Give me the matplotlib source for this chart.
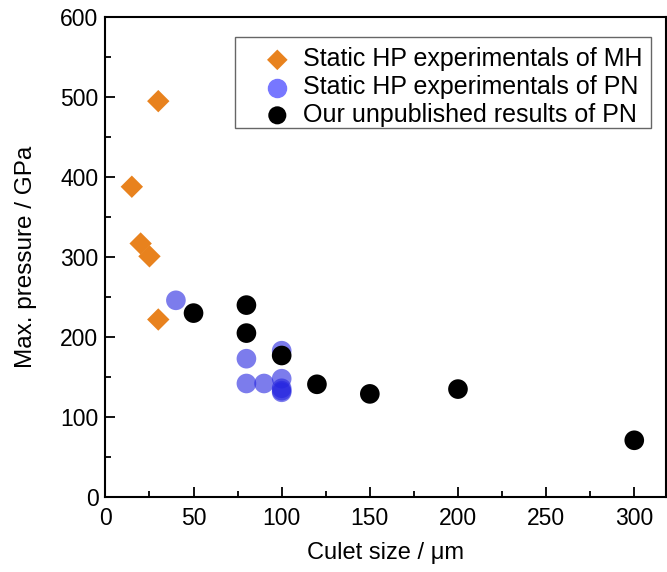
import matplotlib
matplotlib.use("Agg")
import matplotlib.pyplot as plt
from matplotlib.patches import Rectangle
from matplotlib.ticker import MultipleLocator

plt.rcParams['font.family'] = ['Liberation Sans', 'DejaVu Sans']

# static HP experiments of MH
mh_x = [30, 15, 20, 25, 30]
mh_y = [495, 388, 317, 301, 222]

# static HP experiments of PN
pn_x = [40, 80, 80, 90, 100, 100, 100, 100, 100]
pn_y = [246, 173, 142, 142, 183, 148, 136, 133, 131]

# our unpublished results of PN
our_x = [50, 80, 80, 100, 120, 150, 200, 300]
our_y = [230, 240, 205, 177, 141, 129, 135, 71]

fig = plt.figure(figsize=(6.67, 5.72), dpi=100)
ax = fig.add_axes([0.158, 0.131, 0.8405, 0.839])

ax.scatter(mh_x, mh_y, marker='D', s=130, color='#e8821e', edgecolors='none',
           label='Static HP experimentals of MH', zorder=3)
ax.scatter(pn_x, pn_y, marker='o', s=200, color='#2525e0', alpha=0.6, edgecolors='none',
           label='Static HP experimentals of PN', zorder=3)
ax.scatter(our_x, our_y, marker='o', s=200, color='black', edgecolors='none',
           label='Our unpublished results of PN', zorder=4)

ax.set_xlim(0, 318)
ax.set_ylim(0, 600)
ax.xaxis.set_major_locator(MultipleLocator(50))
ax.xaxis.set_minor_locator(MultipleLocator(25))
ax.yaxis.set_major_locator(MultipleLocator(100))
ax.yaxis.set_minor_locator(MultipleLocator(50))
ax.tick_params(which='both', direction='in', top=False, right=False, labelsize=16.5, width=1.3)
ax.tick_params(which='major', length=7)
ax.tick_params(axis='x', which='major', pad=7)
ax.tick_params(axis='y', which='major', pad=5)
ax.tick_params(which='minor', length=4)
for sp in ax.spines.values():
    sp.set_linewidth(1.5)

ax.set_xlabel('Culet size / \u03bcm', fontsize=17, labelpad=9)
ax.set_ylabel('Max. pressure / GPa', fontsize=17.5, labelpad=17)

# legend box drawn separately so the marker column gets the wide left margin
ax.add_patch(Rectangle((0.231, 0.769), 0.742, 0.189, transform=ax.transAxes,
                       facecolor='white', edgecolor='#666666', linewidth=1.0, zorder=5))
leg = ax.legend(loc='upper left', bbox_to_anchor=(0.271, 0.937), fontsize=18,
                frameon=False, handletextpad=0.22, borderpad=0, labelspacing=0.15,
                handlelength=1.6, borderaxespad=0, markerscale=0.92)
leg.set_zorder(6)
for h in leg.legend_handles:
    h.set_alpha(1)
leg.legend_handles[1].set_color('#7777ff')

fig.savefig('out.png', dpi=100)
